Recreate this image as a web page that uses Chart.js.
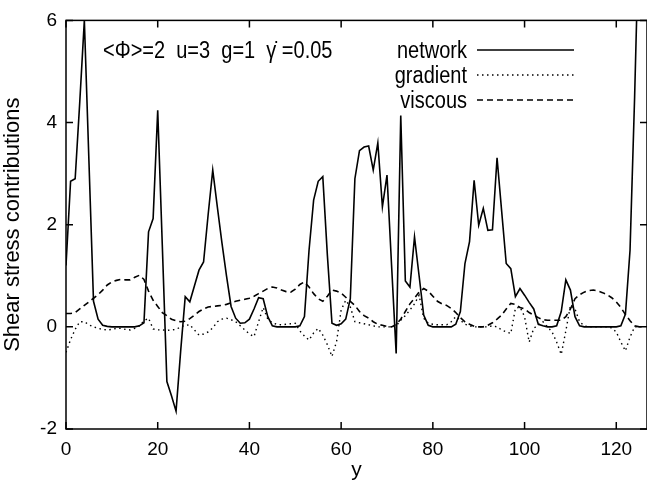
<!DOCTYPE html>
<html>
<head>
<meta charset="utf-8">
<script src="https://cdn.jsdelivr.net/npm/chart.js@4/dist/chart.umd.min.js"></script>
<style>
  html, body { margin: 0; padding: 0; background: #fff; }
  #wrap { width: 647px; height: 483px; }
</style>
</head>
<body>
<div id="wrap"><canvas id="c" width="647" height="483"></canvas></div>
<script>
// lattice positions along the channel (one sample per site)
const positions = Array.from({ length: 127 }, (_, i) => i);

// shear stress contributions at each site
const network = [
  1.2, 2.85, 2.9, 4.4, 6.0, 3.25, 0.5, 0.15, 0.03, 0.01,
  0, 0, 0, 0, 0, 0, 0.02, 0.08, 1.86, 2.12,
  4.24, 1.6, -1.07, -1.35, -1.65, -0.48, 0.59, 0.49, 0.8, 1.11,
  1.27, 2.2, 3.07, 2.35, 1.65, 1.0, 0.4, 0.17, 0.07, 0.08,
  0.15, 0.35, 0.57, 0.55, 0.2, 0.02, 0, 0, 0, 0,
  0, 0.02, 0.2, 1.5, 2.48, 2.85, 2.94, 1.4, 0.07, 0.03,
  0.06, 0.15, 0.55, 2.9, 3.45, 3.52, 3.54, 3.07, 3.6, 2.35,
  2.97, 1.2, -0.52, 4.14, 0.9, 0.78, 1.76, 1.0, 0.23, 0.03,
  0, 0, 0, 0, 0, 0.05, 0.3, 1.24, 1.67, 2.87,
  1.99, 2.32, 1.89, 1.9, 3.31, 2.27, 1.24, 1.14, 0.59, 0.75,
  0.62, 0.48, 0.35, 0.05, 0.02, 0, 0, 0.02, 0.3, 0.92,
  0.72, 0.2, 0.02, 0, 0, 0, 0, 0, 0, 0,
  0, 0.02, 0.25, 1.5, 4.5, 8.0, 9.0
];
const gradient = [
  -0.5, -0.25, -0.05, 0.1, 0.1, 0.04, 0.0, -0.03, -0.05, -0.06,
  -0.05, -0.03, -0.03, -0.05, -0.06, -0.03, 0.02, 0.12, 0.17, -0.04,
  -0.06, -0.06, -0.07, -0.06, -0.05, 0.0, 0.03, 0.04, -0.06, -0.16,
  -0.14, -0.1, -0.02, 0.1, 0.15, 0.17, 0.14, 0.1, 0.02, -0.06,
  -0.14, -0.19, 0.1, 0.38, 0.15, 0.08, 0.05, 0.04, 0.05, 0.06,
  0.07, -0.08, -0.18, -0.26, -0.12, -0.03, -0.16, -0.35, -0.58, -0.29,
  0.33, 0.52, 0.39, 0.1, 0.08, 0.06, 0.04, 0.02, 0.0, 0.0,
  0.0, 0.0, 0.02, 0.13, 0.22, 0.33, 0.45, 0.62, 0.17, 0.07,
  0.05, 0.04, 0.04, 0.04, 0.1, 0.2, 0.13, 0.05, 0.02, 0.0,
  0.0, 0.0, 0.0, 0.02, 0.0, -0.06, -0.1, -0.13, 0.36, 0.39,
  0.2, -0.3, -0.03, 0.04, 0.1, 0.0, -0.1, -0.3, -0.54, -0.08,
  0.42, 0.35, 0.1, 0.02, 0.0, 0.0, 0.0, 0.0, 0.0, -0.02,
  -0.1, -0.3, -0.47, -0.2, 0.0, 0.0, 0.0
];
const viscous = [
  0.26, 0.26, 0.28, 0.35, 0.42, 0.49, 0.56, 0.63, 0.72, 0.82,
  0.88, 0.91, 0.93, 0.92, 0.92, 0.97, 1.01, 0.93, 0.7, 0.52,
  0.4, 0.28, 0.22, 0.15, 0.12, 0.1, 0.11, 0.16, 0.23, 0.3,
  0.35, 0.39, 0.4, 0.41, 0.42, 0.44, 0.47, 0.5, 0.52, 0.54,
  0.56, 0.6, 0.65, 0.7, 0.75, 0.78, 0.76, 0.72, 0.69, 0.68,
  0.74, 0.83, 0.88, 0.78, 0.65, 0.55, 0.5, 0.6, 0.72, 0.7,
  0.66, 0.58, 0.5, 0.42, 0.3, 0.22, 0.17, 0.1, 0.05, 0.03,
  0.01, 0.0, 0.05, 0.15, 0.3, 0.45, 0.56, 0.68, 0.75, 0.7,
  0.6, 0.5, 0.45, 0.42, 0.36, 0.28, 0.18, 0.1, 0.05, 0.01,
  0.0, 0.0, 0.03, 0.08, 0.15, 0.23, 0.35, 0.46, 0.44, 0.38,
  0.35, 0.28, 0.23, 0.18, 0.14, 0.13, 0.13, 0.13, 0.13, 0.2,
  0.35, 0.55, 0.63, 0.68, 0.71, 0.72, 0.7, 0.67, 0.63, 0.57,
  0.49, 0.38, 0.24, 0.12, 0.02, 0.0, 0.0
];

const xTicks = [0, 20, 40, 60, 80, 100, 120];
const yTicks = [-2, 0, 2, 4, 6];
const seriesNames = ['network', 'gradient', 'viscous'];
const paramText = '<\u03A6>=2  u=3  g=1  \u03B3\u0307 =0.05';

const FONT = "'Liberation Sans', Arial, Helvetica, sans-serif";

function pts(vals) {
  return positions.map((x, i) => ({ x: x, y: vals[i] }));
}

// text drawn slightly taller than wide, as in the printed figure
function tallText(ctx, text, x, y, align) {
  ctx.save();
  ctx.translate(x, y);
  ctx.scale(1, 1.15);
  ctx.textAlign = align;
  ctx.textBaseline = 'alphabetic';
  ctx.fillText(text, 0, 0);
  ctx.restore();
}

// frame, inward tick marks on all four sides, key and parameter text
const framePlugin = {
  id: 'frame',
  afterDatasetsDraw(chart) {
    const { ctx, chartArea: a, scales } = chart;
    const xs = scales.x, ys = scales.y;
    ctx.save();
    ctx.strokeStyle = '#000';
    ctx.lineWidth = 1.5;
    ctx.strokeRect(a.left, a.top, a.right - a.left, a.bottom - a.top);
    const tl = 7;
    ctx.beginPath();
    xTicks.forEach(v => {
      const px = xs.getPixelForValue(v);
      ctx.moveTo(px, a.bottom); ctx.lineTo(px, a.bottom - tl);
      ctx.moveTo(px, a.top); ctx.lineTo(px, a.top + tl);
    });
    yTicks.forEach(v => {
      const py = ys.getPixelForValue(v);
      ctx.moveTo(a.left, py); ctx.lineTo(a.left + tl, py);
      ctx.moveTo(a.right, py); ctx.lineTo(a.right - tl, py);
    });
    ctx.stroke();

    // parameter line
    ctx.fillStyle = '#000';
    ctx.font = '20px ' + FONT;
    tallText(ctx, paramText, 103, 58, 'left');

    // key: label on the left, line sample on the right
    const rows = [58, 83, 108];
    chart.data.datasets.forEach((ds, i) => {
      ctx.font = '20px ' + FONT;
      tallText(ctx, ds.label, 467, rows[i], 'right');
      const ly = rows[i] - 8;
      ctx.beginPath();
      ctx.lineWidth = ds.borderWidth;
      ctx.setLineDash(ds.borderDash || []);
      ctx.moveTo(477, ly);
      ctx.lineTo(574, ly);
      ctx.stroke();
      ctx.setLineDash([]);
    });
    ctx.restore();
  }
};

new Chart(document.getElementById('c'), {
  type: 'line',
  data: {
    datasets: [
      { label: seriesNames[0], data: pts(network), borderColor: '#000', borderWidth: 1.6, borderDash: [] },
      { label: seriesNames[1], data: pts(gradient), borderColor: '#000', borderWidth: 1.4, borderDash: [1.5, 3.5] },
      { label: seriesNames[2], data: pts(viscous), borderColor: '#000', borderWidth: 1.6, borderDash: [6, 4] }
    ]
  },
  options: {
    responsive: false,
    animation: false,
    events: [],
    layout: { padding: { left: 0, right: 0, top: 20, bottom: 0 } },
    elements: {
      point: { radius: 0 },
      line: { tension: 0, borderCapStyle: 'butt' }
    },
    plugins: { legend: { display: false }, tooltip: { enabled: false } },
    scales: {
      x: {
        type: 'linear',
        min: 0,
        max: 126.7,
        afterBuildTicks(s) { s.ticks = xTicks.map(v => ({ value: v })); },
        afterFit(s) { s.height = 54; },
        grid: { display: false, drawTicks: false },
        border: { display: false },
        ticks: { color: '#000', font: { family: FONT, size: 19 }, padding: 9, maxRotation: 0 },
        title: { display: true, text: 'y', color: '#000', font: { family: FONT, size: 21 }, padding: { top: 0, bottom: 0 } }
      },
      y: {
        type: 'linear',
        min: -2,
        max: 6,
        afterBuildTicks(s) { s.ticks = yTicks.map(v => ({ value: v })); },
        afterFit(s) { s.width = 66; },
        grid: { display: false, drawTicks: false },
        border: { display: false },
        ticks: { color: '#000', font: { family: FONT, size: 19 }, padding: 9 },
        title: { display: true, text: 'Shear stress contributions', color: '#000', font: { family: FONT, size: 22 }, padding: { top: 0, bottom: 0 } }
      }
    }
  },
  plugins: [framePlugin]
});
</script>
</body>
</html>
